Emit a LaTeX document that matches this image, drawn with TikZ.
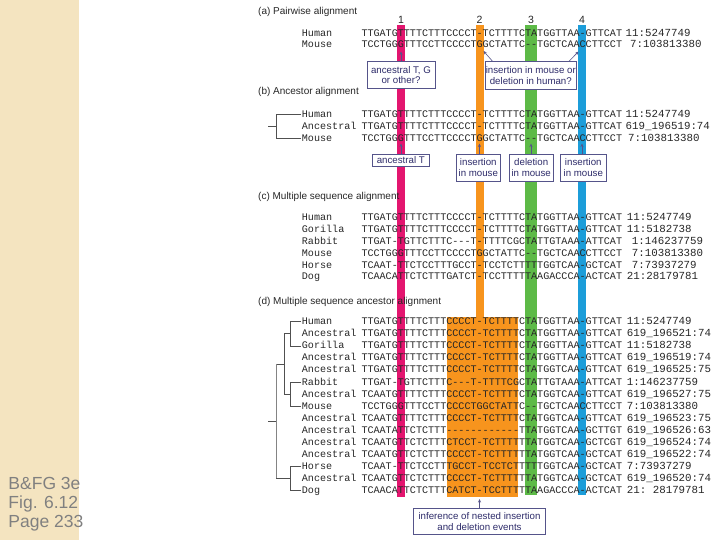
\documentclass[tikz,border=0pt]{standalone}
\usepackage{fontspec}
\setmainfont{Liberation Sans}
\setmonofont{Liberation Mono}
\usetikzlibrary{arrows.meta}
\definecolor{mag}{HTML}{E3156F}
\definecolor{org}{HTML}{F7941D}
\definecolor{grn}{HTML}{5DBA47}
\definecolor{blu}{HTML}{1C9DD9}
\definecolor{beige}{HTML}{F4E4C0}
\definecolor{boxline}{HTML}{55548A}
\definecolor{boxtxt}{HTML}{2E2C6A}
\definecolor{treeline}{HTML}{505050}
\definecolor{sidetxt}{HTML}{808080}
\begin{document}
\begin{tikzpicture}[x=1pt,y=-1pt,
  nm/.style={anchor=base west,inner sep=0pt,font=\ttfamily\fontsize{10.1}{12}\selectfont,text=black!85},
  sq/.style={anchor=base west,inner sep=0pt,font=\ttfamily\fontsize{10.1}{12}\selectfont,text=black!85},
  lb/.style={anchor=base west,inner sep=0pt,font=\ttfamily\fontsize{10.8}{12}\selectfont,text=black!85},
  head/.style={anchor=base west,inner sep=0pt,font=\fontsize{10}{12}\selectfont,text=black!85},
  colnum/.style={anchor=base,inner sep=0pt,font=\fontsize{10.5}{12}\selectfont,text=black!85},
  side/.style={anchor=base west,inner sep=0pt,font=\fontsize{17.5}{20}\selectfont,text=sidetxt},
  note/.style={draw=boxline,fill=white,line width=0.7pt,text=boxtxt,font=\fontsize{9.7}{10.7}\selectfont,align=center,inner sep=0.5pt},
  ptr/.style={draw=boxline,line width=0.6pt,-{Stealth[length=3.5pt,width=3pt]}},
  tree/.style={draw=treeline,line width=0.6pt},
]
\useasboundingbox (0,0) rectangle (720,540);
\fill[beige] (0,0) rectangle (79,540);
\node[side] (s1) at (8.3,489) {B\&FG 3e};
\node[side] (s2) at (8.3,508) {Fig. 6.12};
\node[side] (s3) at (8.3,527) {Page 233};

% coloured columns
\fill[mag] (397,25) rectangle (405,497);
\fill[org] (475.5,25) rectangle (483.5,497);
\fill[org] (447,317) rectangle (518,497);
\fill[grn] (525,25) rectangle (537,495);
\fill[blu] (578,25) rectangle (586,495);

\node[colnum] (n1) at (401,23.5) {1};
\node[colnum] (n2) at (479.5,23.5) {2};
\node[colnum] (n3) at (531,23.5) {3};
\node[colnum] (n4) at (582,23.5) {4};

% headings
\node[head] (ha) at (258,14.5) {(a) Pairwise alignment};
\node[head] (hb) at (258,95) {(b) Ancestor alignment};
\node[head] (hc) at (258,200) {(c) Multiple sequence alignment};
\node[head] (hd) at (258,304) {(d) Multiple sequence ancestor alignment};

% (a)
\node[nm] (aN1) at (301.7,36.7) {Human};
\node[sq] (aS1) at (361.3,36.7) {TTGATGTTTTCTTTCCCCT-TCTTTTCTATGGTTAA-GTTCAT};
\node[lb] (aL1) at (625.5,36.7) {11:5247749};
\node[nm] (aN2) at (301.7,47.7) {Mouse};
\node[sq] (aS2) at (361.3,47.7) {TCCTGGGTTTCCTTCCCCTGGCTATTC--TGCTCAACCTTCCT};
\node[lb] (aL2) at (630,47.7) {7:103813380};

% (b)
\node[nm] (bN1) at (301.7,117.2) {Human};
\node[sq] (bS1) at (361.3,117.2) {TTGATGTTTTCTTTCCCCT-TCTTTTCTATGGTTAA-GTTCAT};
\node[lb] (bL1) at (625.5,117.2) {11:5247749};
\node[nm] (bN2) at (301.7,129.4) {Ancestral};
\node[sq] (bS2) at (361.3,129.4) {TTGATGTTTTCTTTCCCCT-TCTTTTCTATGGTTAA-GTTCAT};
\node[lb] (bL2) at (625.5,129.4) {619\_196519:74};
\node[nm] (bN3) at (301.7,141.6) {Mouse};
\node[sq] (bS3) at (361.3,141.6) {TCCTGGGTTTCCTTCCCCTGGCTATTC--TGCTCAACCTTCCT};
\node[lb] (bL3) at (628,141.6) {7:103813380};
\draw[tree] (301,114.2) -- (276,114.2) -- (276,138.6) -- (301,138.6);
\draw[tree] (268,126.4) -- (276,126.4);

% (c)
\foreach \i/\nm/\sq/\lx/\lb in {
0/Human/TTGATGTTTTCTTTCCCCT-TCTTTTCTATGGTTAA-GTTCAT/626.7/11:5247749,
1/Gorilla/TTGATGTTTTCTTTCCCCT-TCTTTTCTATGGTTAA-GTTCAT/626.7/11:5182738,
2/Rabbit/TTGAT-TGTTCTTTC---T-TTTTCGCTATTGTAAA-ATTCAT/631.7/1:146237759,
3/Mouse/TCCTGGGTTTCCTTCCCCTGGCTATTC--TGCTCAACCTTCCT/631.7/7:103813380,
4/Horse/TCAAT-TTCTCCTTTGCCT-TCCTCTTTTTGGTCAA-GCTCAT/631.7/7:73937279,
5/Dog/TCAACATTCTCTTTGATCT-TCCTTTTTAAGACCCA-ACTCAT/626.7/21:28179781}
{
  \node[nm] (cN\i) at (301.7,221+11.75*\i) {\nm};
  \node[sq] (cS\i) at (361.3,221+11.75*\i) {\sq};
  \node[lb] (cL\i) at (\lx,221+11.75*\i) {\lb};
}

% (d)
\foreach \i/\nm/\sq/\lb in {
0/Human/TTGATGTTTTCTTTCCCCT-TCTTTTCTATGGTTAA-GTTCAT/11:5247749,
1/Ancestral/TTGATGTTTTCTTTCCCCT-TCTTTTCTATGGTTAA-GTTCAT/619\_196521:74,
2/Gorilla/TTGATGTTTTCTTTCCCCT-TCTTTTCTATGGTTAA-GTTCAT/11:5182738,
3/Ancestral/TTGATGTTTTCTTTCCCCT-TCTTTTCTATGGTTAA-GTTCAT/619\_196519:74,
4/Ancestral/TTGATGTTTTCTTTCCCCT-TCTTTTCTATGGTCAA-GTTCAT/619\_196525:75,
5/Rabbit/TTGAT-TGTTCTTTC---T-TTTTCGCTATTGTAAA-ATTCAT/1:146237759,
6/Ancestral/TCAATGTTTTCTTTCCCCT-TCTTTTCTATGGTCAA-GTTCAT/619\_196527:75,
7/Mouse/TCCTGGGTTTCCTTCCCCTGGCTATTC--TGCTCAACCTTCCT/7:103813380,
8/Ancestral/TCAATGTTTTCTTTCCCCT-TCTTTTCTATGGTCAA-GTTCAT/619\_196523:75,
9/Ancestral/TCAATATTCTCTTT------------TTATGGTCAA-GCTTGT/619\_196526:63,
10/Ancestral/TCAATGTTCTCTTTCTCCT-TCTTTTTTATGGTCAA-GCTCGT/619\_196524:74,
11/Ancestral/TCAATGTTCTCTTTCCCCT-TCTTTTTTATGGTCAA-GCTCAT/619\_196522:74,
12/Horse/TCAAT-TTCTCCTTTGCCT-TCCTCTTTTTGGTCAA-GCTCAT/7:73937279,
13/Ancestral/TCAATGTTCTCTTTCCCCT-TCTTTTTTATGGTCAA-GCTCAT/619\_196520:74,
14/Dog/TCAACATTCTCTTTCATCT-TCCTTTTTAAGACCCA-ACTCAT/21: 28179781}
{
  \node[nm] (dN\i) at (301.7,324.7+12.07*\i) {\nm};
  \node[sq] (dS\i) at (361.3,324.7+12.07*\i) {\sq};
  \node[lb] (dL\i) at (626.7,324.7+12.07*\i) {\lb};
}
% tree (d): row centres 321.7 + 12.07 i
\draw[tree] (301,321.7) -- (290.7,321.7) -- (290.7,345.84) -- (301,345.84);
\draw[tree] (290.7,333.77) -- (284.3,333.77) -- (284.3,394.12) -- (290.7,394.12);
\draw[tree] (301,382.05) -- (290.7,382.05) -- (290.7,406.19) -- (301,406.19);
\draw[tree] (284.3,363.9) -- (276,363.9);
\draw[tree,draw=treeline!70] (276,363.9) -- (276,478.61);
\draw[tree] (301,466.54) -- (290.7,466.54) -- (290.7,490.68) -- (301,490.68);
\draw[tree] (290.7,478.61) -- (276,478.61);
\draw[tree] (268,421.3) -- (276,421.3);

% notes (a)
\node[note,minimum width=68pt,minimum height=26.6pt] (boxA1) at (401,75) {ancestral T, G\\or other?};
\node[note,minimum width=91.7pt,minimum height=27.6pt] (boxA2) at (530.8,75.5) {insertion in mouse or\\deletion in human?};
\coordinate (tA1) at (401,51.5);
\coordinate (tA2) at (483.5,51);
\coordinate (tA3) at (578.5,51.5);
\draw[ptr] (boxA1.north) -- (tA1);
\draw[ptr] ([xshift=8pt]boxA2.north west) -- (tA2);
\draw[ptr] ([xshift=-8pt]boxA2.north east) -- (tA3);

% notes (b)
\node[note,minimum width=56.3pt,minimum height=12.7pt] (boxB1) at (400.8,160.3) {ancestral T};
\node[note,minimum width=43.3pt,minimum height=27.7pt] (boxB2) at (478.3,167.8) {insertion\\in mouse};
\node[note,minimum width=44.3pt,minimum height=27.7pt] (boxB3) at (531.2,167.8) {deletion\\in mouse};
\node[note,minimum width=46.7pt,minimum height=27.7pt] (boxB4) at (583.3,167.8) {insertion\\in mouse};
\coordinate (tB1) at (401,143.5);
\coordinate (tB2) at (479.5,143.5);
\coordinate (tB3) at (531,143.5);
\coordinate (tB4) at (582,143.5);
\draw[ptr] (boxB1.north -| tB1) -- (tB1);
\draw[ptr] (boxB2.north -| tB2) -- (tB2);
\draw[ptr] (boxB3.north -| tB3) -- (tB3);
\draw[ptr] (boxB4.north -| tB4) -- (tB4);

% note (d)
\node[note,minimum width=132.4pt,minimum height=25.7pt] (boxD) at (479.5,521.2) {inference of nested insertion\\and deletion events};
\coordinate (tD) at (479.5,499);
\draw[ptr] (boxD.north) -- (tD);
\end{tikzpicture}
\end{document}
